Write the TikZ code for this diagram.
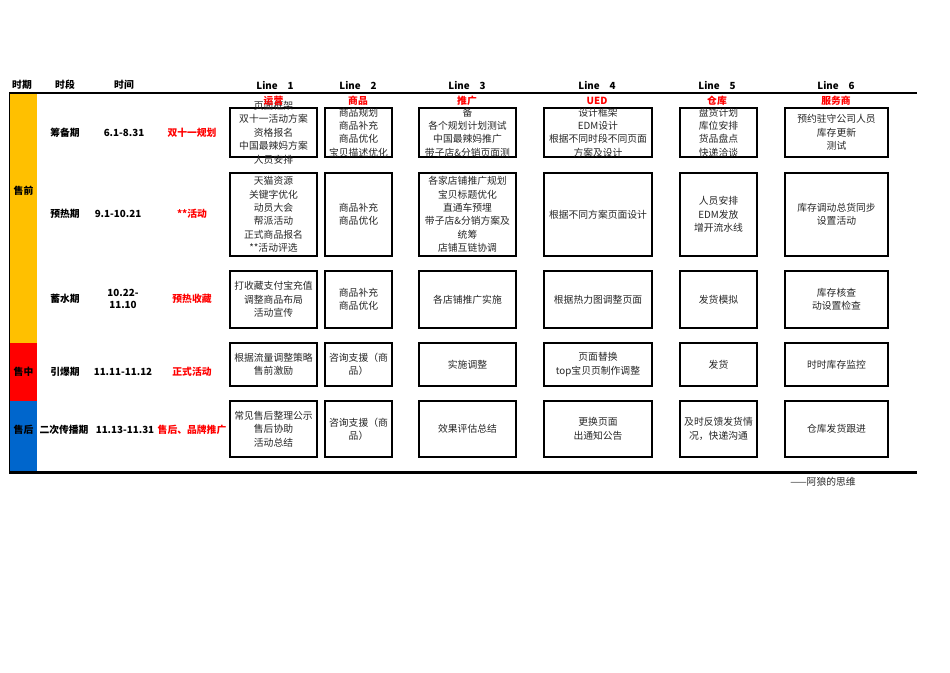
\documentclass[tikz,border=0pt]{standalone}
\usepackage{fontspec}
\setmainfont{Noto Sans CJK SC}
\usepackage{tikz}

\definecolor{preyellow}{HTML}{FFC000}
\definecolor{midred}{HTML}{FF0000}
\definecolor{postblue}{HTML}{0066CC}
\definecolor{txtgray}{HTML}{262626}

\tikzset{
  plan/.style={draw, line width=1.6pt, inner sep=0pt, align=center,
    font=\fontsize{9.8}{13.4}\selectfont, text=txtgray},
  plantext/.style={inner sep=0pt, align=center,
    font=\fontsize{9.8}{13.4}\selectfont, text=txtgray},
  head/.style={font=\fontsize{9.8}{12}\selectfont\bfseries},
  redhead/.style={font=\fontsize{9.8}{12}\selectfont\bfseries, text=midred},
  phase/.style={font=\fontsize{9.8}{12}\selectfont\bfseries, align=center}
}

\begin{document}
\begin{tikzpicture}[x=1pt,y=-1pt]
    \useasboundingbox (0,0) rectangle (950,672);
    % colour strip on the left
    \fill[preyellow] (10,93) rectangle (37,343);
    \fill[midred] (10,343) rectangle (37,401);
    \fill[postblue] (10,401) rectangle (37,472.5);
    \draw[line width=1.4pt] (9.5,93) -- (9.5,472.5);
    \draw[line width=2.4pt] (9,93) -- (917,93);
    \draw[line width=2.4pt] (9,472.5) -- (917,472.5);
    % header row
    \node[head] (hqi) at (22,85) {时期};
    \node[head] (hduan) at (65,85) {时段};
    \node[head] (hshi) at (124,85) {时间};
    \node[head] (hl1) at (275,85) {Line\quad 1};
    \node[head] (hl2) at (358,85) {Line\quad 2};
    \node[head] (hl3) at (467,85) {Line\quad 3};
    \node[head] (hl4) at (597,85) {Line\quad 4};
    \node[head] (hl5) at (717,85) {Line\quad 5};
    \node[head] (hl6) at (836,85) {Line\quad 6};
    % stages
    \node[head] (spre) at (23.5,191) {售前};
    \node[head] (smid) at (23.5,372) {售中};
    \node[head] (spost) at (23.5,430) {售后};
    \node[phase] (p1) at (65,133) {筹备期};
    \node[phase] (p2) at (65,214) {预热期};
    \node[phase] (p3) at (65,299) {蓄水期};
    \node[phase] (p4) at (65,372) {引爆期};
    \node[phase] (p5) at (64,430) {二次传播期};
    \node[phase] (t1) at (124,133) {6.1-8.31};
    \node[phase] (t2) at (118,214) {9.1-10.21};
    \node[phase] (t3) at (123,299) {10.22-\\11.10};
    \node[phase] (t4) at (123,372) {11.11-11.12};
    \node[phase] (t5) at (125,430) {11.13-11.31};
    \node[redhead] (g1) at (192,133) {双十一规划};
    \node[redhead] (g2) at (192,214) {**活动};
    \node[redhead] (g3) at (192,299) {预热收藏};
    \node[redhead] (g4) at (192,372) {正式活动};
    \node[redhead] (g5) at (192,430) {售后、品牌推广};
    % row 1 (text runs over the boxes)
    \node[plan, minimum width=87pt, minimum height=49pt] (b11) at (273.5,132.5) {};
    \node[plantext] (b11t) at (b11) {页面框架\\双十一活动方案\\资格报名\\中国最辣妈方案\\人员安排};
    \node[plan, minimum width=67pt, minimum height=49pt] (b12) at (358.5,132.5) {};
    \node[plantext] (b12t) at (b12) {商品规划\\商品补充\\商品优化\\宝贝描述优化};
    \node[plan, minimum width=97pt, minimum height=49pt] (b13) at (467.5,132.5) {};
    \node[plantext] (b13t) at (b13) {备\\各个规划计划测试\\中国最辣妈推广\\带子店\&分销页面测};
    \node[plan, minimum width=108pt, minimum height=49pt] (b14) at (598,132.5) {};
    \node[plantext] (b14t) at (b14) {设计框架\\EDM设计\\根据不同时段不同页面\\方案及设计};
    \node[plan, minimum width=77pt, minimum height=49pt] (b15) at (718.5,132.5) {};
    \node[plantext] (b15t) at (b15) {盘货计划\\库位安排\\货品盘点\\快递洽谈};
    \node[plan, minimum width=103pt, minimum height=49pt] (b16) at (836.5,132.5)
      {预约驻守公司人员\\库存更新\\测试};
    % line titles
    \node[redhead] (l1) at (273.5,101) {运营};
    \node[redhead] (l2) at (358,101) {商品};
    \node[redhead] (l3) at (467,101) {推广};
    \node[redhead] (l4) at (597,101) {UED};
    \node[redhead] (l5) at (717,101) {仓库};
    \node[redhead] (l6) at (836,101) {服务商};
    % row 2
    \node[plan, minimum width=87pt, minimum height=83pt] (b21) at (273.5,214.5)
      {天猫资源\\关键字优化\\动员大会\\帮派活动\\正式商品报名\\**活动评选};
    \node[plan, minimum width=67pt, minimum height=83pt] (b22) at (358.5,214.5)
      {商品补充\\商品优化};
    \node[plan, minimum width=97pt, minimum height=83pt] (b23) at (467.5,214.5)
      {各家店铺推广规划\\宝贝标题优化\\直通车预埋\\带子店\&分销方案及\\统筹\\店铺互链协调};
    \node[plan, minimum width=108pt, minimum height=83pt] (b24) at (598,214.5)
      {根据不同方案页面设计};
    \node[plan, minimum width=77pt, minimum height=83pt] (b25) at (718.5,214.5)
      {人员安排\\EDM发放\\增开流水线};
    \node[plan, minimum width=103pt, minimum height=83pt] (b26) at (836.5,214.5)
      {库存调动总货同步\\设置活动};
    % row 3
    \node[plan, minimum width=87pt, minimum height=57pt] (b31) at (273.5,299.5)
      {打收藏支付宝充值\\调整商品布局\\活动宣传};
    \node[plan, minimum width=67pt, minimum height=57pt] (b32) at (358.5,299.5)
      {商品补充\\商品优化};
    \node[plan, minimum width=97pt, minimum height=57pt] (b33) at (467.5,299.5)
      {各店铺推广实施};
    \node[plan, minimum width=108pt, minimum height=57pt] (b34) at (598,299.5)
      {根据热力图调整页面};
    \node[plan, minimum width=77pt, minimum height=57pt] (b35) at (718.5,299.5)
      {发货模拟};
    \node[plan, minimum width=103pt, minimum height=57pt] (b36) at (836.5,299.5)
      {库存核查\\动设置检查};
    % row 4
    \node[plan, minimum width=87pt, minimum height=43pt] (b41) at (273.5,364.5)
      {根据流量调整策略\\售前激励};
    \node[plan, minimum width=67pt, minimum height=43pt] (b42) at (358.5,364.5)
      {咨询支援（商\\品）};
    \node[plan, minimum width=97pt, minimum height=43pt] (b43) at (467.5,364.5)
      {实施调整};
    \node[plan, minimum width=108pt, minimum height=43pt] (b44) at (598,364.5)
      {页面替换\\top宝贝页制作调整};
    \node[plan, minimum width=77pt, minimum height=43pt] (b45) at (718.5,364.5)
      {发货};
    \node[plan, minimum width=103pt, minimum height=43pt] (b46) at (836.5,364.5)
      {时时库存监控};
    % row 5
    \node[plan, minimum width=87pt, minimum height=56pt] (b51) at (273.5,429)
      {常见售后整理公示\\售后协助\\活动总结};
    \node[plan, minimum width=67pt, minimum height=56pt] (b52) at (358.5,429)
      {咨询支援（商\\品）};
    \node[plan, minimum width=97pt, minimum height=56pt] (b53) at (467.5,429)
      {效果评估总结};
    \node[plan, minimum width=108pt, minimum height=56pt] (b54) at (598,429)
      {更换页面\\出通知公告};
    \node[plan, minimum width=77pt, minimum height=56pt] (b55) at (718.5,429)
      {及时反馈发货情\\况，快递沟通};
    \node[plan, minimum width=103pt, minimum height=56pt] (b56) at (836.5,429)
      {仓库发货跟进};
    % signature
    \node[font=\fontsize{9.8}{12}\selectfont, text=txtgray] (sig) at (823,482) {——阿狼的思维};
\end{tikzpicture}
\end{document}
